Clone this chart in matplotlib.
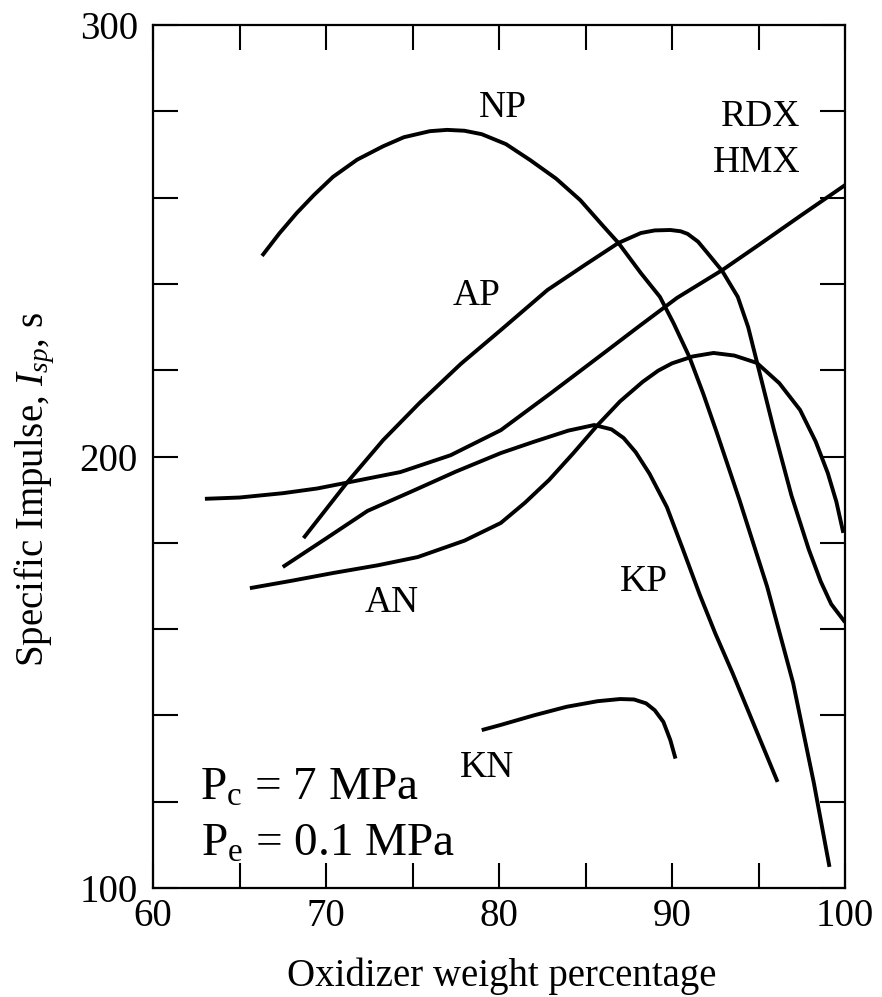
import matplotlib
matplotlib.use("Agg")
import matplotlib.pyplot as plt

np_x = [66.3, 67.3, 68.3, 69.3, 70.4, 71.8, 73.3, 74.5, 76.0, 77.0, 78.0, 79.0, 80.4, 81.8, 83.3, 84.7,
        86.0, 86.9, 88.2, 89.3, 90.1, 91.0, 91.8, 92.6, 93.9, 95.5, 97.0, 98.2, 99.1]
np_y = [246.5, 251.7, 256.4, 260.6, 264.8, 268.8, 271.9, 274.0, 275.4, 275.7, 275.5, 274.7, 272.4, 268.7, 264.4, 259.4,
        253.5, 249.5, 242.5, 237.0, 230.8, 223.1, 214.6, 205.4, 189.9, 169.8, 147.5, 124.3, 104.9]

ap_x = [68.7, 71.2, 73.3, 75.4, 77.8, 80.1, 82.8, 85.0, 86.9, 88.2, 89.0, 89.9, 90.5, 90.9, 91.5, 92.0,
        92.9, 93.8, 94.4, 94.9, 95.9, 96.9, 97.9, 98.6, 99.2, 100.0]
ap_y = [181.1, 193.9, 203.8, 212.4, 221.5, 229.3, 238.6, 244.5, 249.5, 251.8, 252.4, 252.5, 252.2, 251.6, 249.8, 247.4,
        243.0, 237.0, 230.0, 222.0, 206.0, 191.0, 178.5, 171.0, 165.8, 161.6]

rdx_x = [63.0, 65.0, 67.5, 69.5, 71.4, 74.3, 77.2, 80.1, 83.0, 86.0, 88.0, 90.3, 92.9, 95.0, 97.5, 100.0]
rdx_y = [190.2, 190.5, 191.5, 192.6, 194.1, 196.4, 200.3, 206.1, 214.7, 223.8, 229.9, 236.8, 243.2, 249.0, 256.0, 262.9]

kp_x = [67.5, 70.0, 72.4, 75.0, 77.5, 80.1, 82.0, 84.0, 85.5, 86.5, 87.2, 87.9, 88.7, 89.7, 90.6, 91.6,
        92.5, 93.5, 94.8, 96.1]
kp_y = [174.4, 181.0, 187.4, 192.0, 196.5, 200.8, 203.4, 206.0, 207.3, 206.3, 204.3, 201.0, 196.0, 188.3, 178.8, 168.0,
        159.0, 149.8, 137.2, 124.6]

an_x = [65.6, 68.0, 70.4, 73.0, 75.3, 78.0, 80.1, 81.5, 82.9, 84.3, 85.7, 87.0, 88.3, 89.2, 90.0, 91.2,
        92.4, 93.6, 94.9, 96.2, 97.4, 98.3, 99.0, 99.5, 99.9]
an_y = [169.5, 171.2, 173.0, 174.8, 176.7, 180.5, 184.6, 189.3, 194.6, 200.8, 207.3, 212.8, 217.3, 219.9, 221.6, 223.2,
        224.0, 223.4, 221.7, 217.0, 210.8, 203.5, 196.2, 189.5, 182.3]

kn_x = [79.0, 80.1, 82.0, 83.9, 85.7, 87.0, 87.8, 88.5, 89.0, 89.5, 89.9, 90.2]
kn_y = [136.6, 137.8, 140.0, 142.0, 143.3, 143.8, 143.7, 142.8, 141.2, 138.5, 134.3, 130.0]

x_ticks = [60, 65, 70, 75, 80, 85, 90, 95, 100]
x_tick_labels = ["60", "", "70", "", "80", "", "90", "", "100"]
y_ticks = [100, 120, 140, 160, 180, 200, 220, 240, 260, 280, 300]
y_tick_labels = ["100", "", "", "", "", "200", "", "", "", "", "300"]

# label text, x, y, horizontal alignment
curve_labels = [
    ("NP", 80.2, 280.8, "center"),
    ("AP", 78.7, 237.2, "center"),
    ("RDX", 97.4, 278.7, "right"),
    ("HMX", 97.4, 268.0, "right"),
    ("AN", 73.8, 166.2, "center"),
    ("KP", 88.4, 170.9, "center"),
    ("KN", 79.3, 127.8, "center"),
]


def main() -> None:
    plt.rcParams["font.family"] = ["Liberation Serif", "DejaVu Serif"]
    plt.rcParams["mathtext.fontset"] = "custom"
    plt.rcParams["mathtext.rm"] = "Liberation Serif"
    plt.rcParams["mathtext.it"] = "Liberation Serif:italic"

    fig = plt.figure(figsize=(8.82, 9.97), dpi=100)
    ax = fig.add_axes([0.1735, 0.1093, 0.7846, 0.8656])

    for xs, ys in [(np_x, np_y), (ap_x, ap_y), (rdx_x, rdx_y),
                   (kp_x, kp_y), (an_x, an_y), (kn_x, kn_y)]:
        ax.plot(xs, ys, color="black", linewidth=2.8,
                solid_capstyle="butt", solid_joinstyle="round")

    ax.set_xlim(60, 100)
    ax.set_ylim(100, 300)
    ax.set_xticks(x_ticks)
    ax.set_xticklabels(x_tick_labels)
    ax.set_yticks(y_ticks)
    ax.set_yticklabels(y_tick_labels)
    ax.tick_params(axis="both", direction="in", length=18, width=1.5,
                   top=True, right=True, labelsize=28)
    ax.tick_params(axis="x", pad=7)
    ax.tick_params(axis="y", pad=11)
    for spine in ax.spines.values():
        spine.set_linewidth(1.6)

    ax.set_xlabel("Oxidizer weight percentage", fontsize=28)
    ax.xaxis.set_label_coords(0.504, -0.081)
    ax.set_ylabel("Specific Impulse, $I_{sp}$, s", fontsize=28)
    ax.yaxis.set_label_coords(-0.139, 0.462)

    for text, lx, ly, ha in curve_labels:
        ax.text(lx, ly, text, fontsize=27, ha=ha, va="center")

    # operating conditions
    ax.text(62.7, 120.4, r"P$_\mathrm{c}$ = 7 MPa", fontsize=34, ha="left", va="baseline")
    ax.text(62.8, 107.4, r"P$_\mathrm{e}$ = 0.1 MPa", fontsize=34, ha="left", va="baseline")

    fig.savefig("out.png", dpi=100)
    plt.close(fig)


if __name__ == "__main__":
    main()
